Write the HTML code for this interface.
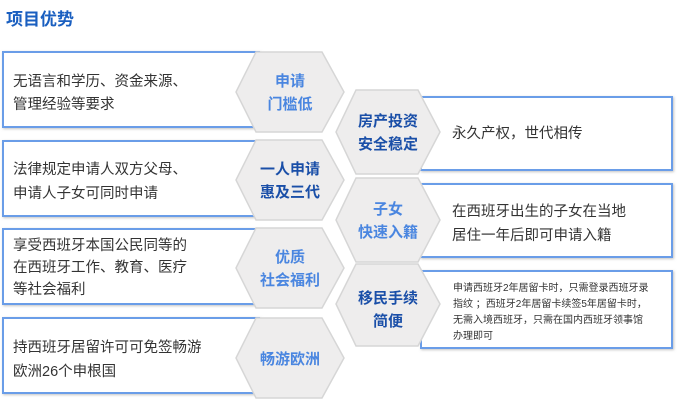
<!DOCTYPE html>
<html><head><meta charset="utf-8"><style>
body{margin:0;width:680px;height:400px;background:#fff;overflow:hidden;font-family:"Liberation Sans","Noto Sans CJK SC",sans-serif}
svg text{font-family:"Liberation Sans","Noto Sans CJK SC",sans-serif}
</style></head><body>
<svg width="680" height="400" xmlns="http://www.w3.org/2000/svg">
<defs><filter id="s" x="-10%" y="-10%" width="130%" height="130%"><feDropShadow dx="1" dy="1" stdDeviation="1.2" flood-color="#999" flood-opacity="0.6"/></filter></defs>
<text x="6" y="25" font-size="17" font-weight="bold" fill="#1a5fc0">项目优势</text>
<g fill="#fff" stroke="#6a9de8" stroke-width="2" filter="url(#s)">
<rect x="3" y="52" width="256" height="75"/>
<rect x="3" y="141" width="256" height="75"/>
<rect x="3" y="229" width="256" height="75"/>
<rect x="3" y="318" width="256" height="75"/>
<rect x="421" y="97" width="251" height="73"/>
<rect x="421" y="184" width="251" height="73"/>
<rect x="421" y="271" width="251" height="77"/>
</g>
<g fill="#eeeded" stroke="#d6d6d6" stroke-width="1.5">
<polygon points="256,52 322,52 344,92 322,132 256,132 236,92"/>
<polygon points="256,140 322,140 344,180 322,220 256,220 236,180"/>
<polygon points="256,228 322,228 344,268 322,308 256,308 236,268"/>
<polygon points="256,318 322,318 344,358 322,398 256,398 236,358"/>
<polygon points="356,90 418,90 440,132 418,174 356,174 336,132"/>
<polygon points="356,178 418,178 440,220 418,262 356,262 336,220"/>
<polygon points="356,264 418,264 440,304 418,346 356,346 336,304"/>
</g>
<g font-size="15" font-weight="bold" text-anchor="middle">
<text x="290" y="86" fill="#4a86e0">申请</text><text x="290" y="109" fill="#4a86e0">门槛低</text>
<text x="290" y="174" fill="#1a4fa8">一人申请</text><text x="290" y="197" fill="#1a4fa8">惠及三代</text>
<text x="290" y="262" fill="#4a86e0">优质</text><text x="290" y="285" fill="#4a86e0">社会福利</text>
<text x="290" y="364" fill="#4a86e0">畅游欧洲</text>
<text x="388" y="126" fill="#1a4fa8">房产投资</text><text x="388" y="149" fill="#1a4fa8">安全稳定</text>
<text x="388" y="214" fill="#4a86e0">子女</text><text x="388" y="237" fill="#4a86e0">快速入籍</text>
<text x="388" y="303" fill="#1a4fa8">移民手续</text><text x="388" y="326" fill="#1a4fa8">简便</text>
</g>
<g font-size="14.5" fill="#333">
<text x="13" y="86">无语言和学历、资金来源、</text><text x="13" y="109">管理经验等要求</text>
<text x="13" y="174">法律规定申请人双方父母、</text><text x="13" y="198">申请人子女可同时申请</text>
<text x="13" y="250">享受西班牙本国公民同等的</text><text x="13" y="272">在西班牙工作、教育、医疗</text><text x="13" y="294">等社会福利</text>
<text x="13" y="352">持西班牙居留许可可免签畅游</text><text x="13" y="376">欧洲26个申根国</text>
<text x="452" y="138">永久产权，世代相传</text>
<text x="452" y="216">在西班牙出生的子女在当地</text><text x="452" y="240">居住一年后即可申请入籍</text>
</g>
<g font-size="10" fill="#333">
<text x="453" y="291">申请西班牙2年居留卡时，只需登录西班牙录</text>
<text x="453" y="307">指纹 ；西班牙2年居留卡续签5年居留卡时，</text>
<text x="453" y="323">无需入境西班牙，只需在国内西班牙领事馆</text>
<text x="453" y="339">办理即可</text>
</g>
</svg>
</body></html>
